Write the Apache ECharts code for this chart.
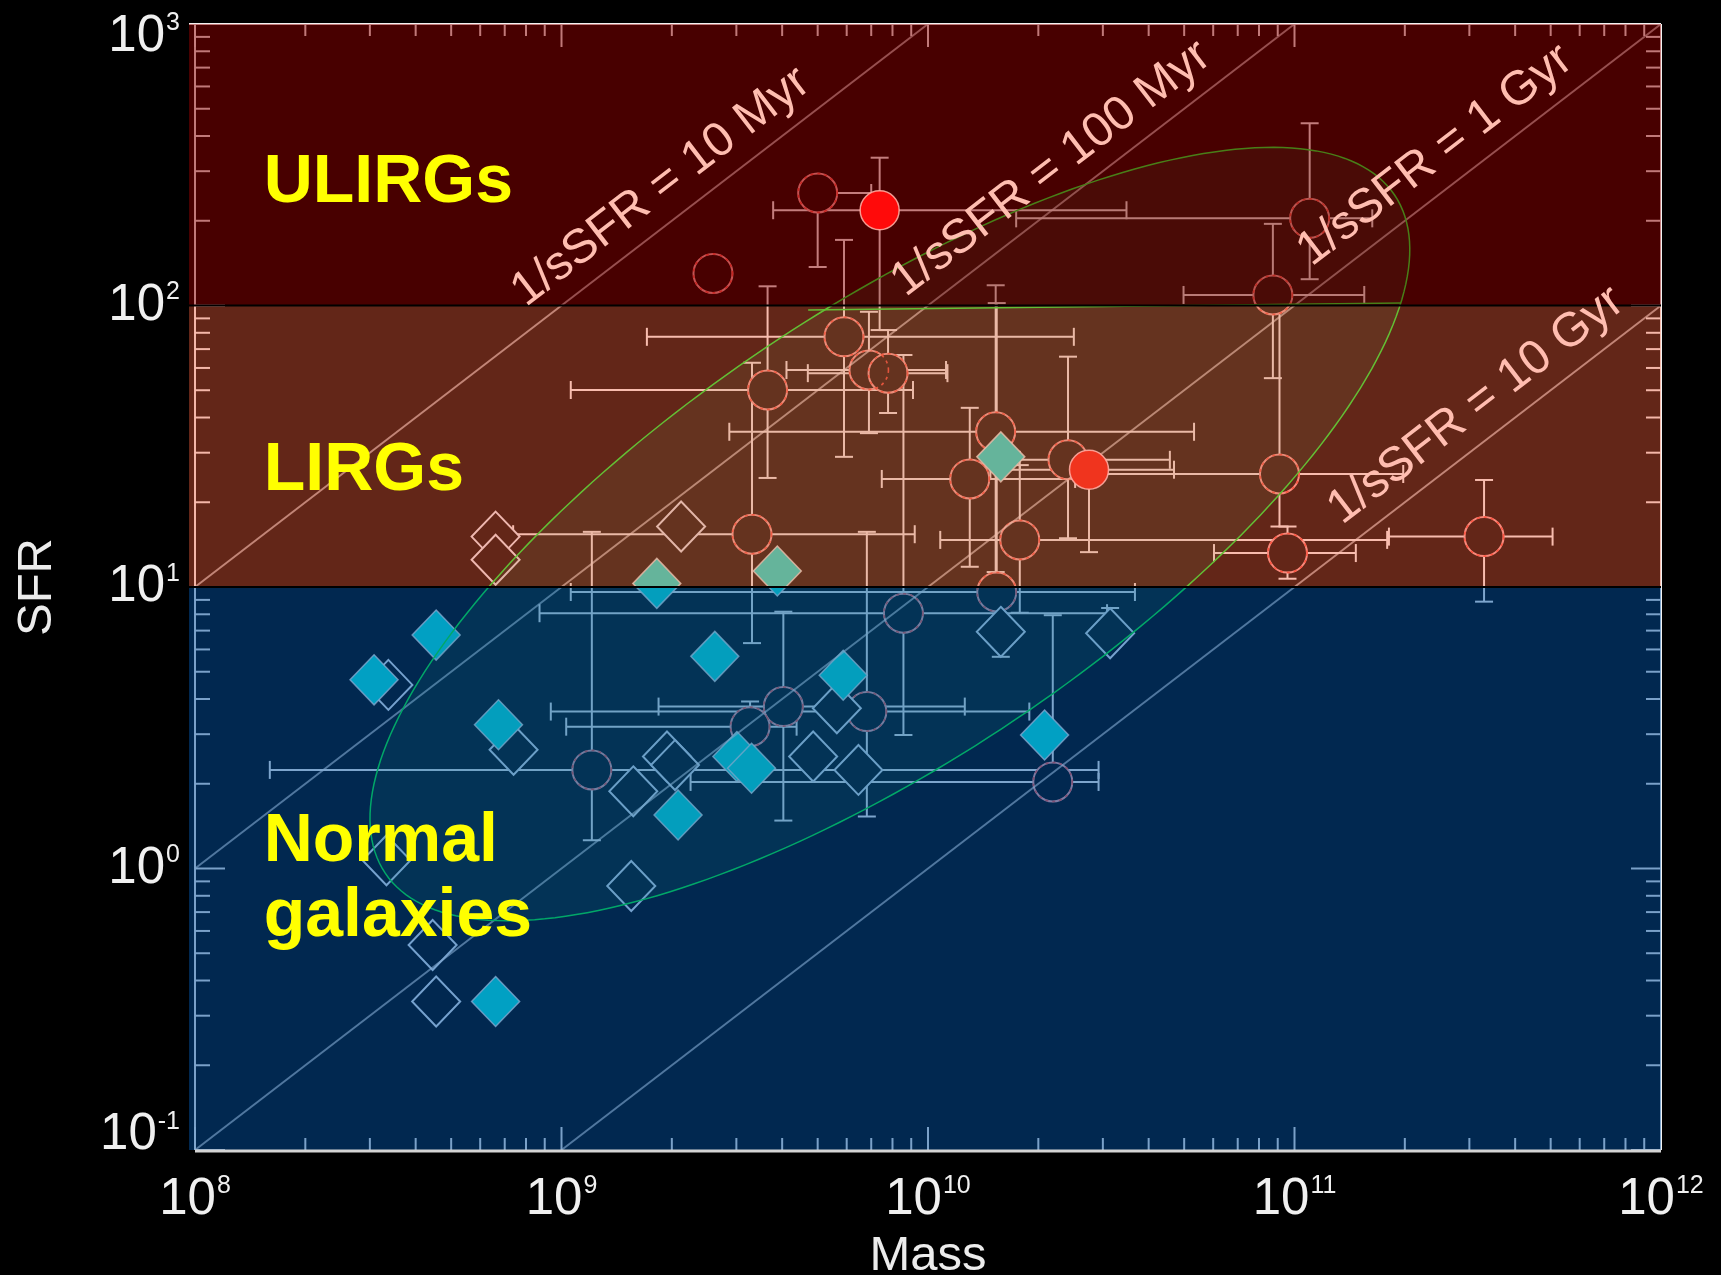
<!DOCTYPE html>
<html>
<head>
<meta charset="utf-8">
<title>SFR vs stellar mass</title>
<script src="https://cdn.jsdelivr.net/npm/echarts@6/dist/echarts.min.js"></script>
<style>
  html, body { margin: 0; padding: 0; background: #000; }
  #chart { width: 1721px; height: 1275px; }
</style>
</head>
<body>
<div id="chart"></div>
<script>
// Star-formation rate against stellar mass, with constant-sSFR guides
// and the IR luminosity classes shaded behind the points.

// Axis decades: tick labels read 10^n
const massDecades = [8, 9, 10, 11, 12];
const sfrDecades = [-1, 0, 1, 2, 3];

// SFR class limits (bottom to top) and their names
const classLimits = [0.1, 10, 100, 1000];
const classNames = ['Normal\ngalaxies', 'LIRGs', 'ULIRGs'];

// Lines of constant specific SFR: timescale 1/sSFR in years
const guideTimescales = [1e7, 1e8, 1e9, 1e10];
const guideLabels = ['1/sSFR = 10 Myr', '1/sSFR = 100 Myr', '1/sSFR = 1 Gyr', '1/sSFR = 10 Gyr'];
const guideLabelMass = [1.87e9, 2.17e10, 2.42e11, 3.13e11];

// Open circles: [mass, SFR, mass low, mass high, SFR low, SFR high]
const openCircles = [
  [5.0e9, 251, null, 7.0e9, 137, null],
  [2.59e9, 130, null, null, null, null],
  [1.10e11, 204, 1.74e10, 1.63e11, 124, 444],
  [8.73e10, 109, 4.98e10, 1.55e11, 55.2, 195],
  [5.90e9, 77.4, 1.71e9, 2.50e10, 29.0, 171],
  [6.90e9, 59.0, 4.11e9, 1.12e10, 35.2, 95],
  [7.78e9, 57.5, 4.70e9, 1.13e10, 41.5, 81.8],
  [3.65e9, 50.1, 1.06e9, 9.10e9, 24.4, 117],
  [1.53e10, 35.6, 2.87e9, 5.32e10, 11.3, 118],
  [1.30e10, 24.2, 7.48e9, 2.52e10, 11.8, 43.3],
  [2.41e10, 28.3, 1.78e10, 4.57e10, 14.9, 65.8],
  [1.78e10, 14.7, 1.08e10, 1.79e11, 8.1, 27.1],
  [9.10e10, 25.2, 2.94e10, 1.98e11, 16.4, 105],
  [9.57e10, 13.2, 6.03e10, 1.47e11, 10.7, 16.4],
  [3.29e11, 15.1, 1.81e11, 5.06e11, 8.87, 24.0],
  [3.31e9, 15.4, 7.38e8, 9.20e9, 6.32, 62.6],
  [1.54e10, 9.6, 1.06e9, 3.67e10, null, 102],
  [8.57e9, 8.07, 8.71e8, 3.08e10, 2.98, 66.7],
  [4.03e9, 3.76, 1.84e9, 1.26e10, 1.48, 8.17],
  [6.81e9, 3.61, 9.35e8, 1.89e10, 1.53, 15.7],
  [3.27e9, 3.19, 1.03e9, 4.38e9, null, 3.92],
  [1.21e9, 2.24, 1.60e8, 2.92e10, 1.26, 15.7],
  [2.19e10, 2.03, 2.25e9, 2.92e10, null, 7.94]
];

// Filled circles: [mass, SFR, mass low, mass high, SFR low, SFR high]
const filledCircles = [
  [7.38e9, 218, 3.78e9, 3.48e10, 81.8, 335],
  [2.75e10, 26.1, 1.48e10, 4.69e10, 13.3, null]
];

// Open diamonds: [mass, SFR, SFR low, SFR high]
const openDiamonds = [
  [2.12e9, 16.4, null, null],
  [6.61e8, 15.1, null, null],
  [6.61e8, 12.5, null, null],
  [1.58e10, 6.93, 5.65, null],
  [3.14e10, 6.85, null, 8.42],
  [3.37e8, 4.49, null, null],
  [7.40e8, 2.64, null, null],
  [1.57e9, 1.88, null, null],
  [1.94e9, 2.50, null, null],
  [2.04e9, 2.33, null, null],
  [4.86e9, 2.50, null, null],
  [6.46e9, 2.24, null, null],
  [5.64e9, 3.71, null, null],
  [1.55e9, 0.867, null, null],
  [3.33e8, 1.07, null, null],
  [4.45e8, 0.535, null, null],
  [4.55e8, 0.337, null, null]
];

// Filled diamonds: [mass, SFR]
const filledDiamonds = [
  [1.58e10, 29.0],
  [1.82e9, 10.3],
  [3.88e9, 11.4],
  [4.55e8, 6.75],
  [3.08e8, 4.68],
  [6.73e8, 3.24],
  [2.62e9, 5.67],
  [5.87e9, 4.86],
  [2.08e10, 2.98],
  [3.01e9, 2.50],
  [3.30e9, 2.27],
  [2.08e9, 1.55],
  [6.61e8, 0.337]
];

// Region of the main sequence: ellipse in (log mass, log SFR) given by
// its centre and two conjugate semi-axes
const ellipseCentre = [9.896, 1.188];
const ellipseAxisA = [1.377, 1.2046];
const ellipseAxisB = [0.3408, -0.6604];
const ellipseSeam = [[4.71e9, 96.4], [1.95e11, 102]];

// ---------------------------------------------------------------------
const massMin = Math.pow(10, massDecades[0]);
const massMax = Math.pow(10, massDecades[massDecades.length - 1]);
const sfrMin = Math.pow(10, sfrDecades[0]);
const sfrMax = Math.pow(10, sfrDecades[sfrDecades.length - 1]);

const SANS = '"Liberation Sans", Arial, Helvetica, sans-serif';
const NARROW = '"Liberation Sans Narrow", "Liberation Sans", Arial, sans-serif';
const INK = 'rgba(255,255,255,0.95)';
const BAR_INK = '#f8fafa';
const GUIDE_INK = 'rgba(255,255,255,0.62)';
const ELLIPSE_INK = '#00ff30';
const classTint = ['rgba(2,80,160,0.5)', 'rgba(248,95,60,0.4)', 'rgba(144,0,0,0.5)'];
const regionLabelAt = [[1.54e8, 0.956], [1.54e8, 27.1], [1.54e8, 285]];

const seg = (x1, y1, x2, y2, stroke, lineWidth) =>
  ({ type: 'line', shape: { x1, y1, x2, y2 }, style: { stroke, lineWidth } });

function renderFrame(params, api) {
  const [xL, yB] = api.coord([massMin, sfrMin]);
  const [xR, yT] = api.coord([massMax, sfrMax]);
  const out = [
    seg(xL - 6, yT, xR, yT, INK, 2),
    seg(xL, yT, xL, yB, INK, 2),
    seg(xR, yT, xR, yB, INK, 2)
  ];
  massDecades.slice(0, -1).forEach(d => {
    for (let k = 1; k <= 9; k++) {
      const x = api.coord([k * Math.pow(10, d), sfrMin])[0];
      const len = k === 1 ? 23 : 12;
      out.push(seg(x, yB, x, yB - len, INK, 2), seg(x, yT, x, yT + len, INK, 2));
    }
  });
  sfrDecades.slice(0, -1).forEach(d => {
    for (let k = 1; k <= 9; k++) {
      const y = api.coord([massMin, k * Math.pow(10, d)])[1];
      const len = k === 1 ? 30 : 15;
      out.push(seg(xL, y, xL + len, y, INK, 2), seg(xR, y, xR - len, y, INK, 2));
    }
  });
  return { type: 'group', children: out };
}

const errorRows = openCircles
  .concat(filledCircles)
  .concat(openDiamonds.map(d => [d[0], d[1], null, null, d[2], d[3]]));

function renderErrors(params, api) {
  const [m, s, mLo, mHi, sLo, sHi] = errorRows[params.dataIndex];
  const [cx, cy] = api.coord([m, s]);
  const cap = 9;
  const out = [];
  [mLo, mHi].forEach(v => {
    if (v == null) return;
    const x = api.coord([v, s])[0];
    out.push(seg(x, cy, cx, cy, BAR_INK, 2), seg(x, cy - cap, x, cy + cap, BAR_INK, 2));
  });
  [sLo, sHi].forEach(v => {
    if (v == null) return;
    const y = api.coord([m, v])[1];
    out.push(seg(cx, y, cx, cy, BAR_INK, 2), seg(cx - cap, y, cx + cap, y, BAR_INK, 2));
  });
  return { type: 'group', children: out };
}

function renderGuide(params, api) {
  const t = guideTimescales[params.dataIndex];
  const m0 = Math.max(massMin, sfrMin * t);
  const m1 = Math.min(massMax, sfrMax * t);
  const a = api.coord([m0, m0 / t]);
  const b = api.coord([m1, m1 / t]);
  return seg(a[0], a[1], b[0], b[1], GUIDE_INK, 2);
}

function renderGuideLabel(params, api) {
  const i = params.dataIndex;
  const t = guideTimescales[i];
  const m = guideLabelMass[i];
  const p = api.coord([m, m / t]);
  const q = api.coord([m * 10, (m * 10) / t]);
  const angle = Math.atan2(p[1] - q[1], q[0] - p[0]);
  return {
    type: 'text', x: p[0], y: p[1] - 42, rotation: angle,
    style: { text: guideLabels[i], fill: '#ffbdb0', font: '48px ' + SANS, align: 'center', verticalAlign: 'middle' }
  };
}

function renderEllipse(params, api) {
  const pts = [];
  for (let k = 0; k < 240; k++) {
    const a = (k / 240) * 2 * Math.PI;
    const lm = ellipseCentre[0] + ellipseAxisA[0] * Math.cos(a) + ellipseAxisB[0] * Math.sin(a);
    const ls = ellipseCentre[1] + ellipseAxisA[1] * Math.cos(a) + ellipseAxisB[1] * Math.sin(a);
    pts.push(api.coord([Math.pow(10, lm), Math.pow(10, ls)]));
  }
  const s0 = api.coord(ellipseSeam[0]);
  const s1 = api.coord(ellipseSeam[1]);
  return {
    type: 'group',
    children: [
      { type: 'polygon', shape: { points: pts }, style: { fill: 'rgba(40,220,130,0.1)', stroke: ELLIPSE_INK, lineWidth: 1.5 } },
      seg(s0[0], s0[1], s1[0], s1[1], ELLIPSE_INK, 1.5)
    ]
  };
}

function renderClass(params, api) {
  const i = params.dataIndex;
  const [xL, yLo] = api.coord([massMin, classLimits[i]]);
  const [xR, yHi] = api.coord([massMax, classLimits[i + 1]]);
  return {
    type: 'rect',
    shape: { x: xL - 6, y: yHi, width: xR - xL + 6, height: yLo - yHi },
    style: { fill: classTint[i] }
  };
}

function renderEdges(params, api) {
  const out = [];
  classLimits.slice(1, -1).forEach(v => {
    const [xL, y] = api.coord([massMin, v]);
    const xR = api.coord([massMax, v])[0];
    out.push(seg(xL - 6, y, xR, y, '#000', 2));
  });
  const [xL, yB] = api.coord([massMin, sfrMin]);
  const xR = api.coord([massMax, sfrMin])[0];
  out.push(seg(xL, yB + 1, xR, yB + 1, '#d4d4d4', 3));
  return { type: 'group', children: out };
}

function renderRegionLabel(params, api) {
  const i = params.dataIndex;
  const p = api.coord(regionLabelAt[i]);
  return {
    type: 'text', x: p[0], y: p[1] + 6,
    style: {
      text: classNames[i], fill: '#ffff00', font: 'bold 68px ' + SANS,
      align: 'left', verticalAlign: 'middle', lineHeight: 75
    }
  };
}

// Tick label styles: "10" with a raised exponent
const tickRich = {
  b: { fontSize: 51, lineHeight: 51, fontFamily: NARROW, color: '#f0f0f0' },
  e: { fontSize: 25, lineHeight: 22, fontFamily: NARROW, color: '#f0f0f0', verticalAlign: 'top', padding: [0, 0, 0, 1] },
  gapTop: { fontSize: 8, lineHeight: 25 },
  gapBottom: { fontSize: 8, lineHeight: 30 }
};
const powerLabel = v => '{b|10}{e|' + Math.round(Math.log10(v)) + '}';

const common = { animation: false, silent: true };
const chart = echarts.init(document.getElementById('chart'));
chart.setOption({
  backgroundColor: '#000',
  animation: false,
  grid: { left: 195, right: 60, top: 24, bottom: 125, containLabel: false, outerBoundsMode: 'none', show: true, backgroundColor: '#000', borderWidth: 0 },
  xAxis: {
    type: 'log', logBase: 10, min: massMin, max: massMax, splitNumber: 4,
    axisLine: { show: false }, axisTick: { show: false }, splitLine: { show: false },
    axisLabel: { margin: 24, showMinLabel: true, showMaxLabel: true, formatter: powerLabel, rich: tickRich },
    name: 'Mass', nameLocation: 'middle', nameGap: 82,
    nameTextStyle: { color: '#ececec', fontSize: 49, fontFamily: SANS }
  },
  yAxis: {
    type: 'log', logBase: 10, min: sfrMin, max: sfrMax, splitNumber: 4,
    axisLine: { show: false }, axisTick: { show: false }, splitLine: { show: false },
    axisLabel: {
      margin: 15, showMinLabel: true, showMaxLabel: true,
      formatter: v => {
        const e = Math.round(Math.log10(v));
        // keep the end labels inside the frame
        if (e === sfrDecades[sfrDecades.length - 1]) return '{gapTop| }\n' + powerLabel(v);
        if (e === sfrDecades[0]) return powerLabel(v) + '\n{gapBottom| }';
        return powerLabel(v);
      },
      rich: tickRich
    },
    name: 'SFR', nameLocation: 'middle', nameGap: 133,
    nameTextStyle: { color: '#ececec', fontSize: 49, fontFamily: SANS }
  },
  series: [
    Object.assign({ type: 'custom', z: 1, renderItem: renderFrame, data: [[1e10, 1]] }, common),
    Object.assign({ type: 'custom', z: 2, renderItem: renderErrors, data: errorRows.map(r => [r[0], r[1]]) }, common),
    Object.assign({
      type: 'scatter', z: 3, symbol: 'circle', symbolSize: 39,
      data: openCircles.map(r => [r[0], r[1]]),
      itemStyle: { color: '#000', borderColor: 'rgb(250,165,165)', borderWidth: 2, opacity: 1 }
    }, common),
    Object.assign({
      type: 'scatter', z: 3, symbol: 'circle', symbolSize: 39,
      data: openCircles.map(r => [r[0], r[1]]),
      itemStyle: { color: 'rgba(0,0,0,0)', borderColor: 'rgba(255,70,60,0.9)', borderWidth: 1.6, borderType: [3, 4], opacity: 1 }
    }, common),
    Object.assign({
      type: 'scatter', z: 3, symbol: 'diamond', symbolSize: [48, 50],
      data: openDiamonds.map(r => [r[0], r[1]]),
      itemStyle: { color: '#000', borderColor: 'rgb(232,242,252)', borderWidth: 2, opacity: 1 }
    }, common),
    Object.assign({
      type: 'scatter', z: 3, symbol: 'diamond', symbolSize: [48, 50],
      data: filledDiamonds.map(r => [r[0], r[1]]),
      itemStyle: { color: 'rgb(0,240,230)', borderColor: 'rgba(255,255,255,0.8)', borderWidth: 1.5, opacity: 1 }
    }, common),
    Object.assign({ type: 'custom', z: 4, renderItem: renderGuide, data: guideTimescales.map(t => [1e10, 1e10 / t]) }, common),
    Object.assign({ type: 'custom', z: 5, renderItem: renderEllipse, data: [[Math.pow(10, ellipseCentre[0]), Math.pow(10, ellipseCentre[1])]] }, common),
    Object.assign({ type: 'custom', z: 6, renderItem: renderClass, data: classNames.map((n, i) => [1e10, classLimits[i]]) }, common),
    Object.assign({
      type: 'scatter', z: 7, symbol: 'circle', symbolSize: 39,
      data: filledCircles.map(r => [r[0], r[1]]),
      itemStyle: {
        color: p => (p.value[1] >= classLimits[2] ? '#ff0a0a' : '#f0341e'),
        borderColor: 'rgba(255,170,160,0.9)', borderWidth: 1.5, opacity: 1
      }
    }, common),
    Object.assign({ type: 'custom', z: 8, renderItem: renderEdges, data: [[1e10, 1]] }, common),
    Object.assign({ type: 'custom', z: 9, renderItem: renderGuideLabel, data: guideTimescales.map((t, i) => [guideLabelMass[i], guideLabelMass[i] / t]) }, common),
    Object.assign({ type: 'custom', z: 9, renderItem: renderRegionLabel, data: regionLabelAt }, common)
  ]
});
</script>
</body>
</html>
